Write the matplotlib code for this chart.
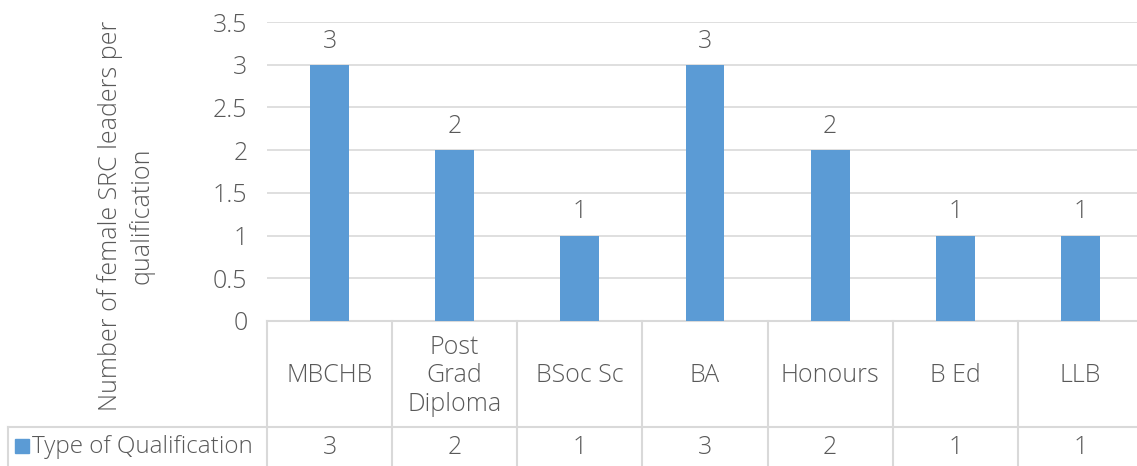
import matplotlib
matplotlib.use("Agg")
import matplotlib.pyplot as plt
from matplotlib.transforms import blended_transform_factory
from matplotlib.patches import Rectangle

categories = ["MBCHB", "Post\nGrad\nDiploma", "BSoc Sc", "BA", "Honours", "B Ed", "LLB"]
values = [3, 2, 1, 3, 2, 1, 1]
series_name = "Type of Qualification"
y_ticks = [0, 0.5, 1, 1.5, 2, 2.5, 3, 3.5]
y_label = "Number of female SRC leaders per\nqualification"

W, H = 1137, 466
bar_color = "#5b9bd5"
grid_color = "#d9d9d9"
text_color = "#595959"
fs = 18

plt.rcParams["font.family"] = ["Open Sans", "DejaVu Sans"]
plt.rcParams["font.weight"] = "light"

fig = plt.figure(figsize=(W / 100, H / 100), dpi=100)

# plot area in pixels
left, right, top, bottom = 267, 1143, 22, 321
ax = fig.add_axes([left / W, 1 - bottom / H, (right - left) / W, (bottom - top) / H])

x = list(range(len(categories)))
ax.bar(x, values, width=0.31, color=bar_color, zorder=3)
ax.set_xlim(-0.5, len(categories) - 0.5)
ax.set_ylim(0, 3.5)
ax.set_yticks(y_ticks)
ax.set_yticklabels(["%g" % t for t in y_ticks], fontsize=fs, color=text_color)
ax.tick_params(axis="y", length=0, pad=14)
ax.set_xticks([])
ax.grid(axis="y", color=grid_color, linewidth=1.2, zorder=0)
for s in ax.spines.values():
    s.set_visible(False)

for xi, v in zip(x, values):
    ax.text(xi, v + 0.13, "%d" % v, ha="center", va="bottom", fontsize=fs, color=text_color)

fig.text(126 / W, 1 - 216 / H, y_label, rotation=90, ha="center", va="center",
         fontsize=fs, color=text_color, linespacing=1.3, multialignment="center")

# data table below the axes: x in data coords, y in figure pixels (flipped)
tr = blended_transform_factory(ax.transData, fig.transFigure)

def fy(py):
    return 1 - py / H

row1_top, row2_top, row2_bot = 321, 427, 470
lw = 1.5
# vertical separators
for i in range(len(categories) + 1):
    xb = i - 0.5
    ax.plot([xb, xb], [fy(row1_top), fy(row2_bot)], transform=tr, color=grid_color,
            lw=lw, clip_on=False)
# horizontal lines
ax.plot([-0.5, len(categories) - 0.5], [fy(row1_top), fy(row1_top)], transform=tr,
        color=grid_color, lw=lw, clip_on=False)
fig.add_artist(plt.Line2D([8 / W, 1.01], [fy(row2_top), fy(row2_top)], color=grid_color, lw=lw))
fig.add_artist(plt.Line2D([8 / W, 8 / W], [fy(row2_top), fy(row2_bot)], color=grid_color, lw=lw))

for xi, c, v in zip(x, categories, values):
    ax.text(xi, fy((row1_top + row2_top) / 2 + 2), c, transform=tr, ha="center", va="center",
            fontsize=fs, color=text_color, linespacing=1.2, clip_on=False)
    ax.text(xi, fy(447), "%d" % v, transform=tr, ha="center", va="center",
            fontsize=fs, color=text_color, clip_on=False)

fig.add_artist(Rectangle((15 / W, fy(453)), 14 / W, 14 / H, color=bar_color,
                         transform=fig.transFigure))
fig.text(32 / W, fy(447), series_name, ha="left", va="center", fontsize=17.5, color=text_color)

fig.savefig("out.png", dpi=100)
